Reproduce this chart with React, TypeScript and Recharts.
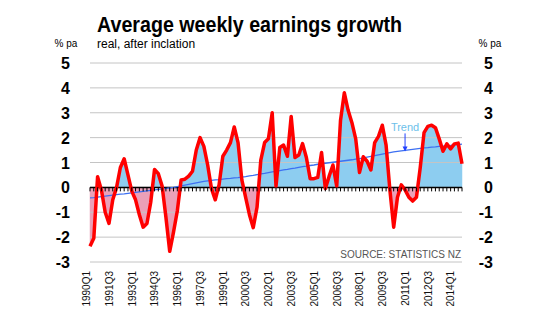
import React, { useEffect, useState } from "react";
import {
  ComposedChart,
  Line,
  XAxis,
  YAxis,
  CartesianGrid,
  ReferenceDot,
} from "recharts";

// Quarterly, 1990Q1 .. 2014Q3
const START_YEAR = 1990;
const WAGE_GROWTH = [
  -2.37, -2.05, 0.43, -0.1, -1.0, -1.45, -0.5, 0.0, 0.8, 1.15,
  0.5, -0.15, -0.5, -1.1, -1.6, -1.45, -0.6, 0.72, 0.55, 0.05,
  -1.2, -2.57, -1.8, -0.95, 0.3, 0.33, 0.45, 0.65, 1.5, 2.0,
  1.65, 0.9, -0.05, -0.5, 0.1, 1.25, 1.5, 1.8, 2.43, 1.8,
  0.3, -0.4, -1.1, -1.62, -0.8, 1.1, 1.8, 1.95, 3.0, 0.05,
  1.6, 1.7, 1.25, 2.85, 1.2, 1.3, 1.76, 1.2, 0.35, 0.35,
  0.4, 1.4, -0.05, 0.45, 0.9, 0.05, 2.7, 3.8, 3.1, 2.6,
  1.95, 0.6, 1.23, 1.05, 0.7, 1.8, 2.05, 2.5, 1.7, -0.1,
  -1.6, -0.4, 0.1, -0.1, -0.4, -0.55, -0.4, 0.8, 2.2, 2.45,
  2.5, 2.4, 1.95, 1.45, 1.75, 1.55, 1.75, 1.78, 0.95,
];
const TREND = [
  -0.42, -0.41, -0.39, -0.37, -0.35, -0.33, -0.31, -0.29, -0.27, -0.26,
  -0.24, -0.22, -0.2, -0.18, -0.16, -0.14, -0.12, -0.1, -0.08, -0.06,
  -0.04, -0.02, 0.0, 0.03, 0.06, 0.09, 0.12, 0.15, 0.18, 0.21,
  0.24, 0.26, 0.28, 0.3, 0.31, 0.33, 0.35, 0.36, 0.38, 0.39,
  0.41, 0.43, 0.46, 0.48, 0.51, 0.54, 0.56, 0.59, 0.62, 0.64,
  0.67, 0.7, 0.72, 0.75, 0.77, 0.8, 0.83, 0.85, 0.88, 0.9,
  0.93, 0.95, 0.97, 0.99, 1.01, 1.03, 1.05, 1.07, 1.09, 1.11,
  1.14, 1.16, 1.19, 1.22, 1.25, 1.28, 1.31, 1.34, 1.37, 1.4,
  1.43, 1.45, 1.47, 1.49, 1.51, 1.53, 1.55, 1.57, 1.59, 1.6,
  1.62, 1.63, 1.65, 1.66, 1.68, 1.69, 1.71, 1.72, 1.74,
];
const X_TICK_LABELS = [
  "1990Q1", "1991Q3", "1993Q1", "1994Q3", "1996Q1", "1997Q3", "1999Q1",
  "2000Q3", "2002Q1", "2003Q3", "2005Q1", "2006Q3", "2008Q1", "2009Q3",
  "2011Q1", "2012Q3", "2014Q1",
];
const Y_MIN = -3;
const Y_MAX = 5;
const Y_TICKS = [-3, -2, -1, 0, 1, 2, 3, 4, 5];
const TREND_LABEL_QUARTER = "2010Q4";
const TREND_LABEL_Y = 2.25;

const QUARTERS = WAGE_GROWTH.map(
  (_, i) => `${START_YEAR + Math.floor(i / 4)}Q${(i % 4) + 1}`
);
const data = WAGE_GROWTH.map((v, i) => ({
  i,
  q: QUARTERS[i],
  v,
  trend: TREND[i],
  zero: 0,
}));
const X_TICKS = X_TICK_LABELS.map((l) => QUARTERS.indexOf(l));
const N = WAGE_GROWTH.length;

const W = 550;
const H = 325;
const TOP = 63;
const X_AXIS_H = 63;
const POS_FILL = "#8dcdf0";
const NEG_FILL = "#eba0b8";

const FONT = "'Liberation Sans', Arial, sans-serif";

type P = { x: number; y: number; v: number };

// pixel points of the series, as computed by Recharts (collected in a dot renderer)
const collected: P[] = [];

function buildFills(pts: P[]) {
  const a = pts[0];
  const b = pts.find((p) => p.v !== a.v) || pts[1];
  const slope = (b.y - a.y) / (b.v - a.v);
  const zeroY = a.y - slope * a.v;

  const aug: P[] = [];
  for (let i = 0; i < pts.length; i++) {
    const p = pts[i];
    aug.push(p);
    if (i < pts.length - 1) {
      const q = pts[i + 1];
      if (p.v * q.v < 0) {
        const t = p.v / (p.v - q.v);
        aug.push({ x: p.x + t * (q.x - p.x), y: zeroY, v: 0 });
      }
    }
  }
  const runs: { s: number; pts: P[] }[] = [];
  let cur: P[] = [];
  let s = 0;
  for (const p of aug) {
    const sp = Math.sign(p.v);
    if (sp === 0) {
      cur.push(p);
      if (s !== 0) runs.push({ s, pts: cur });
      cur = [p];
      s = 0;
    } else {
      cur.push(p);
      s = sp;
    }
  }
  if (s !== 0) runs.push({ s, pts: cur });

  return runs.map((r, k) => {
    const f = r.pts[0];
    const l = r.pts[r.pts.length - 1];
    const d =
      `M${f.x},${zeroY} ` +
      r.pts.map((p) => `L${p.x},${p.y}`).join(" ") +
      ` L${l.x},${zeroY} Z`;
    const c = r.s > 0 ? POS_FILL : NEG_FILL;
    return <path key={`fill${k}`} d={d} fill={c} stroke={c} strokeWidth={0.5} />;
  });
}

const CollectDot = (props: any) => {
  const { cx, cy, index, payload } = props;
  collected[index] = { x: cx, y: cy, v: payload.v };
  return <g key={`cd${index}`} />;
};

const LeftTick = (props: any) => {
  const { x, y, payload } = props;
  return (
    <text x={x} y={y} dy={6} textAnchor="end" fontSize={16} fontWeight="bold" fill="#000" fontFamily={FONT}>
      {payload.value}
    </text>
  );
};
const RightTick = (props: any) => {
  const { x, y, payload } = props;
  return (
    <text x={x + 31} y={y} dy={6} textAnchor="end" fontSize={16} fontWeight="bold" fill="#000" fontFamily={FONT}>
      {payload.value}
    </text>
  );
};
const XTick = (props: any) => {
  const { x, y, payload } = props;
  return (
    <text
      x={x}
      y={y}
      transform={`rotate(-90, ${x}, ${y})`}
      textAnchor="end"
      fontSize={10}
      fill="#111"
      fontFamily={FONT}
    >
      {QUARTERS[payload.value]}
    </text>
  );
};
const ZeroTick = (props: any) => {
  const { cx, cy, index } = props;
  return <line key={`zt${index}`} x1={cx} y1={cy} x2={cx} y2={cy + 4} stroke="#000" strokeWidth={1} />;
};
const TrendLabel = (props: any) => {
  const { cx, cy } = props;
  return (
    <g>
      <text x={cx} y={cy} textAnchor="middle" fontSize={11} fill="#6cbfea" fontFamily={FONT}>
        Trend
      </text>
      <line x1={cx} y1={cy + 2} x2={cx} y2={cy + 18} stroke="#1f3fff" strokeWidth={1} />
      <path d={`M${cx - 2.5},${cy + 15} L${cx + 2.5},${cy + 15} L${cx},${cy + 20} Z`} fill="#1f3fff" />
    </g>
  );
};

export default function App() {
  const [pts, setPts] = useState<P[] | null>(null);
  useEffect(() => {
    let tries = 0;
    const id = setInterval(() => {
      tries++;
      const ok =
        collected.length === N &&
        collected.every((p) => p && Number.isFinite(p.x) && Number.isFinite(p.y));
      if (ok) {
        setPts(collected.slice());
        clearInterval(id);
      } else if (tries > 100) {
        clearInterval(id);
      }
    }, 20);
    return () => clearInterval(id);
  }, []);

  return (
    <div style={{ position: "absolute", left: 0, top: 0, width: W, height: H, background: "#fff", fontFamily: FONT }}>
      {/* fills underneath the chart, built from the chart's own point coordinates */}
      <svg width={W} height={H} style={{ position: "absolute", left: 0, top: 0, pointerEvents: "none" }}>
        {pts && buildFills(pts)}
      </svg>
      <div style={{ position: "absolute", left: 0, top: 0 }}>
        <ComposedChart
          width={W}
          height={H}
          data={data}
          margin={{ top: TOP, right: 0, bottom: 0, left: 0 }}
        >
          <CartesianGrid horizontal vertical={false} stroke="#c4c4c4" strokeWidth={1} />
          <XAxis
            dataKey="i"
            type="number"
            domain={[0, N - 1]}
            ticks={X_TICKS}
            interval={0}
            axisLine={false}
            tickLine={false}
            tickSize={0}
            tickMargin={9}
            height={X_AXIS_H}
            tick={<XTick />}
          />
          <YAxis
            type="number"
            domain={[Y_MIN, Y_MAX]}
            ticks={Y_TICKS}
            width={90}
            axisLine={false}
            tickLine={false}
            tickSize={0}
            tickMargin={20}
            tick={<LeftTick />}
          />
          <YAxis
            yAxisId="right"
            orientation="right"
            type="number"
            domain={[Y_MIN, Y_MAX]}
            ticks={Y_TICKS}
            width={88}
            axisLine={false}
            tickLine={false}
            tickSize={0}
            tickMargin={0}
            tick={<RightTick />}
          />
          <Line
            type="linear"
            dataKey="v"
            stroke="none"
            dot={CollectDot}
            activeDot={false}
            isAnimationActive={false}
          />
          <Line
            yAxisId="right"
            type="linear"
            dataKey="zero"
            stroke="#000"
            strokeWidth={1.5}
            dot={ZeroTick}
            activeDot={false}
            isAnimationActive={false}
          />
          <Line
            type="linear"
            dataKey="trend"
            stroke="#3d70f2"
            strokeWidth={1.3}
            dot={false}
            activeDot={false}
            isAnimationActive={false}
          />
          <Line
            type="linear"
            dataKey="v"
            stroke="#ff0000"
            strokeWidth={3.5}
            strokeLinejoin="round"
            dot={false}
            activeDot={false}
            isAnimationActive={false}
          />
          <ReferenceDot
            x={QUARTERS.indexOf(TREND_LABEL_QUARTER)}
            y={TREND_LABEL_Y}
            r={0}
            shape={TrendLabel}
          />
        </ComposedChart>
      </div>
      <svg width={W} height={H} style={{ position: "absolute", left: 0, top: 0, pointerEvents: "none" }}>
        <text x={97} y={31.5} fontSize={22} fontWeight="bold" fill="#000" fontFamily={FONT} textLength={305} lengthAdjust="spacingAndGlyphs">
          Average weekly earnings growth
        </text>
        <text x={97} y={48} fontSize={12} fill="#000" fontFamily={FONT}>
          real, after inclation
        </text>
        <text x={66} y={46.5} fontSize={10} textAnchor="middle" fill="#000" fontFamily={FONT}>
          % pa
        </text>
        <text x={490} y={46.5} fontSize={10} textAnchor="middle" fill="#000" fontFamily={FONT}>
          % pa
        </text>
        <text x={461} y={258} fontSize={10} textAnchor="end" fill="#555" fontFamily={FONT}>
          SOURCE: STATISTICS NZ
        </text>
      </svg>
    </div>
  );
}
